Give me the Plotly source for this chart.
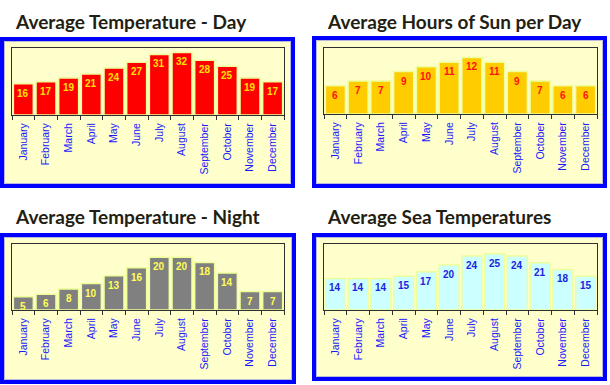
import plotly.graph_objects as go

months = ["January", "February", "March", "April", "May", "June", "July",
          "August", "September", "October", "November", "December"]
day_temp = [16, 17, 19, 21, 24, 27, 31, 32, 28, 25, 19, 17]
sun_hours = [6, 7, 7, 9, 10, 11, 12, 11, 9, 7, 6, 6]
night_temp = [5, 6, 8, 10, 13, 16, 20, 20, 18, 14, 7, 7]
sea_temp = [14, 14, 14, 15, 17, 20, 24, 25, 24, 21, 18, 15]
titles = ["Average Temperature - Day", "Average Hours of Sun per Day",
          "Average Temperature - Night", "Average Sea Temperatures"]

W, H = 610, 385
def px(x): return x / W
def py(y): return 1 - y / H

panels = [
    dict(values=day_temp, title=titles[0], bar="#FF0000", text="#FFE000",
         box=(0, 37, 295, 188), plot=(12, 48, 284, 115), title_xy=(13, 21), ymax=34.3),
    dict(values=sun_hours, title=titles[1], bar="#FFCC00", text="#FF1010",
         box=(312, 36, 607, 188), plot=(324, 48, 597, 114), title_xy=(325, 21), ymax=14),
    dict(values=night_temp, title=titles[2], bar="#808080", text="#FFFF55",
         box=(0, 233, 296, 384), plot=(12, 244, 284, 310), title_xy=(13, 216), ymax=25),
    dict(values=sea_temp, title=titles[3], bar="#CCFFFF", text="#2222DD",
         box=(312, 233, 607, 381), plot=(324, 244, 597, 310), title_xy=(325, 216), ymax=29.3),
]

fig = go.Figure()
shapes = []
annotations = []
layout = {}

for i, p in enumerate(panels):
    n = "" if i == 0 else str(i + 1)
    xa, ya = "x" + n, "y" + n
    fig.add_trace(go.Bar(
        x=months, y=p["values"], xaxis=xa, yaxis=ya,
        marker=dict(color=p["bar"], line=dict(color="#EEFF99", width=1.5)),
        hoverinfo="x+y", showlegend=False,
    ))
    x0, y0, x1, y1 = p["box"]
    shapes.append(dict(type="rect", xref="paper", yref="paper",
                       x0=px(x0 + 2), x1=px(x1 - 2), y0=py(y1 - 2), y1=py(y0 + 2),
                       fillcolor="#FFFFCC", line=dict(color="#0000FF", width=4), layer="below"))
    shapes.append(dict(type="rect", xref="paper", yref="paper",
                       x0=px(x0 + 4.5), x1=px(x1 - 4.5), y0=py(y1 - 4.5), y1=py(y0 + 4.5),
                       fillcolor="rgba(0,0,0,0)", line=dict(color="#B8B8E0", width=1), layer="below"))
    qx0, qy0, qx1, qy1 = p["plot"]
    layout["xaxis" + n] = dict(
        domain=[px(qx0), px(qx1)], anchor=ya, type="category",
        showline=True, mirror=True, linecolor="#303030", linewidth=1,
        ticks="outside", ticklen=4, tickcolor="#303030", tickson="boundaries",
        ticklabelstandoff=3,
        tickangle=-90, tickfont=dict(family="Liberation Sans, Arial", size=10.5, color="#1A1AFF"),
        showgrid=False, fixedrange=True,
    )
    layout["yaxis" + n] = dict(
        domain=[py(qy1), py(qy0)], anchor=xa, range=[0, p["ymax"]],
        showline=True, mirror=True, linecolor="#303030", linewidth=1,
        showticklabels=False, ticks="", showgrid=False, zeroline=False, fixedrange=True,
    )
    tx, ty = p["title_xy"]
    annotations.append(dict(
        text=p["title"], xref="paper", yref="paper", x=px(tx), y=py(ty),
        xanchor="left", yanchor="middle", showarrow=False,
        font=dict(family="Lato", size=19, color="#231E12", weight="bold"),
    ))
    for m, v in zip(months, p["values"]):
        annotations.append(dict(
            text=str(v), x=m, y=v, xref=xa, yref=ya, yanchor="top", yshift=-2,
            showarrow=False,
            font=dict(family="Liberation Sans, Arial", size=10, color=p["text"], weight="bold"),
        ))

fig.update_layout(
    width=W, height=H, margin=dict(l=0, r=0, t=0, b=0),
    paper_bgcolor="#FFFFFF", plot_bgcolor="#C0C0C0",
    bargap=0.12, shapes=shapes, annotations=annotations,
    **layout,
)
fig.write_html("out.html", config={"displayModeBar": False},
               post_script="document.body.style.margin='0';document.body.style.padding='0';document.body.style.overflow='hidden';")
